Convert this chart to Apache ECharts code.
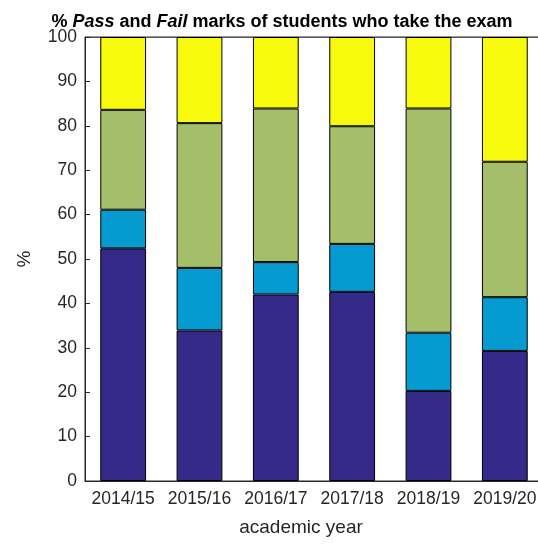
<!DOCTYPE html>
<html><head><meta charset="utf-8">
<script src="https://cdn.jsdelivr.net/npm/echarts@6/dist/echarts.min.js"></script>
<style>html,body{margin:0;padding:0;background:#fff}#c{width:538px;height:545px}</style>
</head><body><div id="c"></div>
<script>
const categories = ['2014/15','2015/16','2016/17','2017/18','2018/19','2019/20'];
const seriesA = [52.4, 33.9, 42.0, 42.6, 20.3, 29.3];
const seriesB = [8.7, 14.1, 7.3, 10.8, 13.1, 12.1];
const seriesC = [22.5, 32.6, 34.6, 26.5, 50.5, 30.5];
const seriesD = [16.4, 19.4, 16.1, 20.1, 16.1, 28.1];
const yTicks = [0,10,20,30,40,50,60,70,80,90,100];
const colors = ['#352a87', '#069bd0', '#a5be6a', '#f8fa0d'];

const chart = echarts.init(document.getElementById('c'), null, {renderer:'canvas'});
const font = 'Liberation Sans, Arial, Helvetica, sans-serif';
const axisColor = '#262626';
function mk(name, data, i){
  return {name, type:'bar', stack:'s', data, barWidth:'60%',
    itemStyle:{color:colors[i], borderColor:'#000', borderWidth:1}, xAxisIndex:0, yAxisIndex:0, silent:true};
}
chart.setOption({
  animation:false,
  title:{
    text:'{a|% }{b|Pass}{a| and }{b|Fail}{a| marks of students who take the exam}',
    left:277, textAlign:'center', top:8,
    textStyle:{rich:{
      a:{fontFamily:font, fontWeight:'bold', fontSize:18, color:'#000'},
      b:{fontFamily:font, fontWeight:'bold', fontStyle:'italic', fontSize:18, color:'#000'}
    }}
  },
  grid:{left:85, width:458, top:37, bottom:64, show:true, borderColor:axisColor, borderWidth:1,
        outerBoundsMode:'none', containLabel:false},
  xAxis:[{
    type:'category', data:categories, position:'bottom',
    axisLine:{lineStyle:{color:axisColor}},
    axisTick:{inside:true, alignWithLabel:true, length:5, lineStyle:{color:axisColor}},
    axisLabel:{color:axisColor, fontFamily:font, fontSize:17.5, margin:9, interval:0, hideOverlap:false},
    name:'academic year', nameLocation:'middle', nameGap:37,
    nameTextStyle:{color:axisColor, fontFamily:font, fontSize:19, padding:[0,26,0,0]}
  },{
    type:'category', data:categories, position:'top',
    axisLine:{lineStyle:{color:'#555'}},
    axisTick:{inside:true, alignWithLabel:true, length:5, lineStyle:{color:axisColor}},
    axisLabel:{show:false}
  }],
  yAxis:[{
    type:'value', min:0, max:100, interval:10,
    axisLine:{show:true, lineStyle:{color:axisColor}},
    axisTick:{show:true, inside:true, length:5, lineStyle:{color:axisColor}},
    splitLine:{show:false},
    axisLabel:{color:axisColor, fontFamily:font, fontSize:17.5, margin:8,
      formatter:v=> yTicks.includes(v)? String(v):''},
    name:'%', nameLocation:'middle', nameGap:51, nameRotate:90,
    nameTextStyle:{color:axisColor, fontFamily:font, fontSize:19}
  }],
  series:[mk('a',seriesA,0), mk('b',seriesB,1), mk('c',seriesC,2), mk('d',seriesD,3)]
});
</script></body></html>
